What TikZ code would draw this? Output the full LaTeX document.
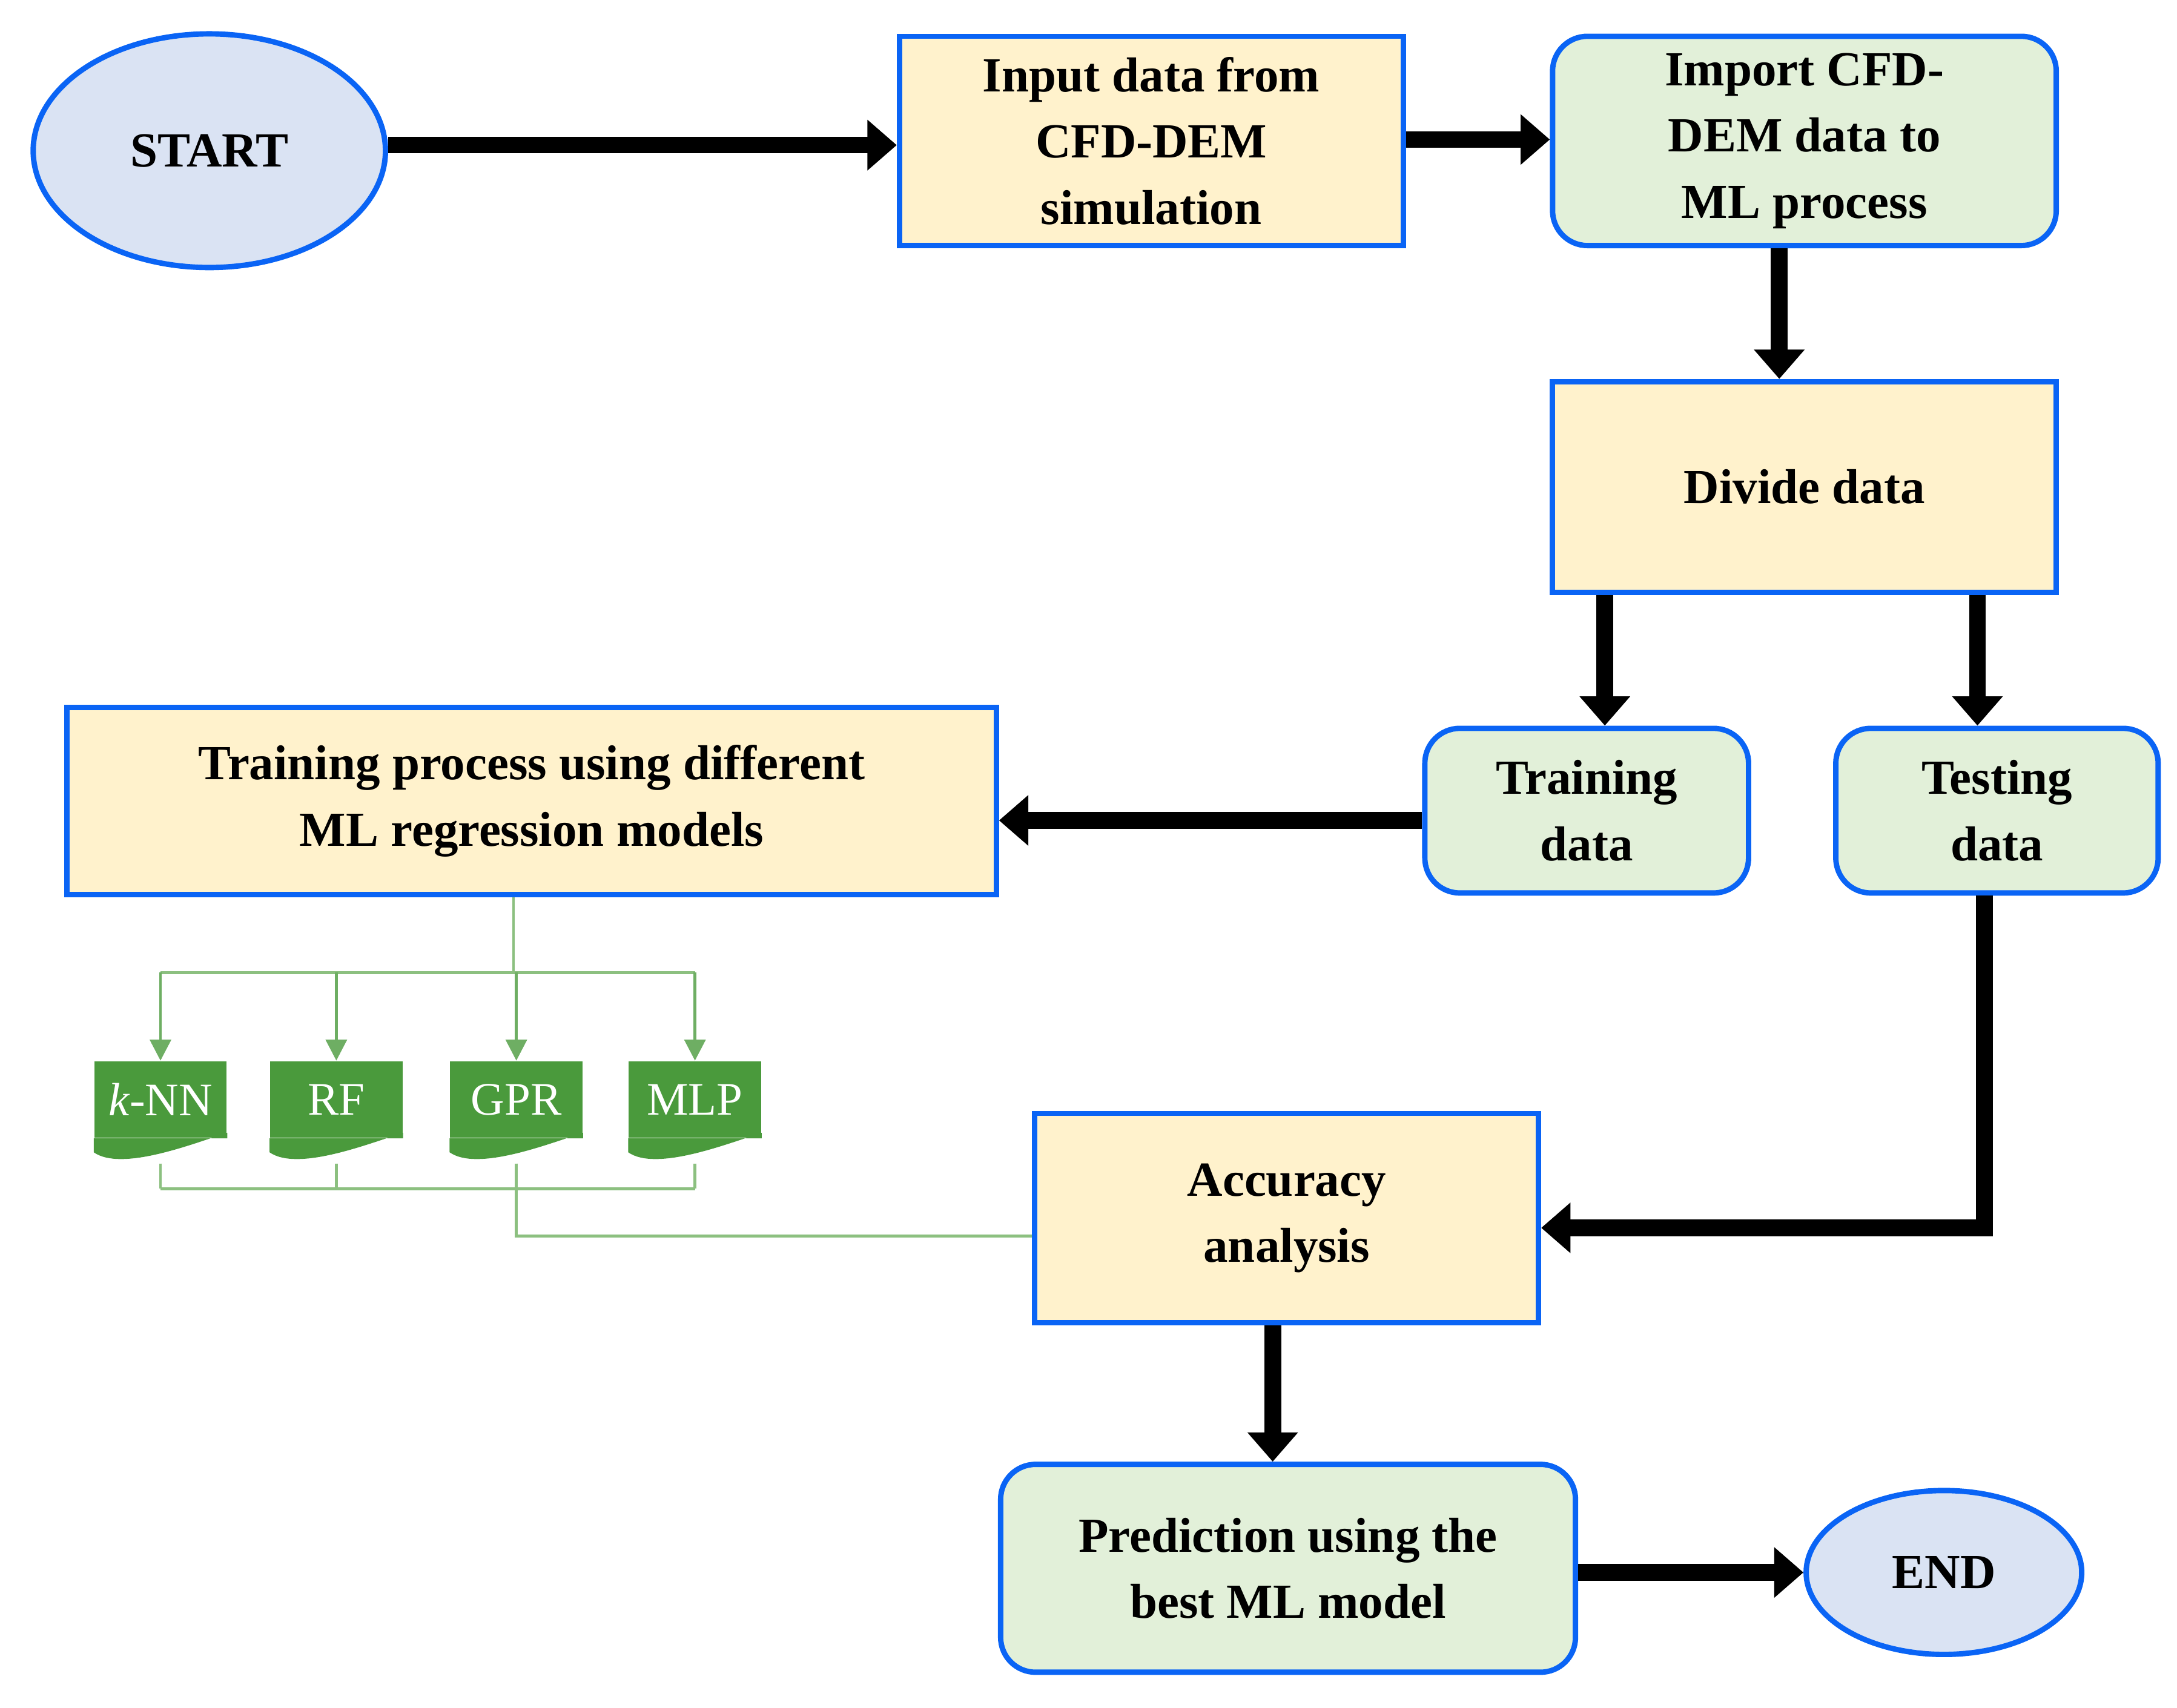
\documentclass[tikz,border=0pt]{standalone}
\usepackage{fontspec}
\setmainfont{Liberation Serif}
\usetikzlibrary{arrows.meta,shapes.geometric,calc}
\definecolor{edgeblue}{HTML}{0A64F5}
\definecolor{boxyellow}{HTML}{FFF2CC}
\definecolor{boxgreen}{HTML}{E2F0D9}
\definecolor{ovalblue}{HTML}{DAE3F3}
\definecolor{docgreen}{HTML}{4A9A3C}
\definecolor{linegreen}{HTML}{8CC080}
\tikzset{
  plain/.style={draw=edgeblue, line width=2.2pt, align=center, font=\fontsize{20}{27}\selectfont\bfseries, inner sep=2pt},
  sqbox/.style={plain, rectangle, fill=boxyellow},
  rdbox/.style={plain, rectangle, rounded corners=0.5cm, fill=boxgreen},
  oval/.style={plain, ellipse, fill=ovalblue},
  flow/.style={line width=0.24cm, -{Triangle[length=0.42cm,width=0.7cm]}},
  doc/.style={fill=docgreen, text=white, minimum width=1.9cm, minimum height=1.1cm, inner sep=0pt, font=\fontsize{19}{20}\selectfont},
  thin/.style={draw=linegreen, line width=1.2pt},
  pick/.style={thin, draw=docgreen!80, -{Triangle[length=0.3cm,width=0.3cm]}}
}
\begin{document}
\begin{tikzpicture}[x=0.02cm, y=-0.02cm]
    \useasboundingbox (0,0) rectangle (1560,1224);
    \node[oval, minimum width=5.05cm, minimum height=3.35cm] (start) at (150,108) {START};
    \node[sqbox, minimum width=7.22cm, minimum height=3.0cm] (input) at (825,101) {Input data from\\CFD-DEM\\simulation};
    \node[rdbox, minimum width=7.22cm, minimum height=3.0cm] (import) at (1293,101) {Import CFD-\\DEM data to\\ML process};
    \node[sqbox, minimum width=7.22cm, minimum height=3.02cm] (divide) at (1293,349) {Divide data};
    \node[rdbox, minimum width=4.64cm, minimum height=2.36cm] (train) at (1137,581) {Training\\data};
    \node[rdbox, minimum width=4.62cm, minimum height=2.36cm] (test) at (1431,581) {Testing\\data};
    \node[sqbox, minimum width=13.32cm, minimum height=2.68cm] (models) at (381,574) {Training process using different\\ML regression models};
    \node[sqbox, minimum width=7.22cm, minimum height=3.0cm] (accuracy) at (922,873) {Accuracy\\analysis};
    \node[rdbox, minimum width=8.24cm, minimum height=2.98cm] (predict) at (923,1124) {Prediction using the\\best ML model};
    \node[oval, minimum width=3.95cm, minimum height=2.35cm] (end) at (1393,1127) {END};
    % main flow
    \draw[flow] (start.east |- 0,104) -- (input.west |- 0,104);
    \draw[flow] (input.east |- 0,100) -- (import.west |- 0,100);
    \draw[flow] (import.south -| 1275,0) -- (divide.north -| 1275,0);
    \draw[flow] (divide.south -| 1150,0) -- (train.north -| 1150,0);
    \draw[flow] (divide.south -| 1417,0) -- (test.north -| 1417,0);
    \draw[flow] (train.west |- 0,588) -- (models.east |- 0,588);
    \draw[flow] (test.south -| 1422,0) -- (1422,880) -- (accuracy.east |- 0,880);
    \draw[flow] (accuracy.south -| 912,0) -- (predict.north -| 912,0);
    \draw[flow] (predict.east |- 0,1127) -- (end.west);
    % regression models
    \foreach \nm/\xx/\txt in {knn/115/{\textit{k}-NN}, rf/241/RF, gpr/370/GPR, mlp/498/MLP} {
      \node[doc] (\nm) at (\xx,788) {\txt};
      \fill[docgreen] (\nm.south west) -- ++(0,10) .. controls ++(20,14) and ++(-25,8) .. ($(\nm.south east)+(0,-4)$) -- (\nm.south east) -- cycle;
    }
    \coordinate (split) at (368,697);
    \coordinate (merge) at (368,852);
    \draw[thin] (models.south -| split) -- (split);
    \draw[thin] (knn |- split) -- (mlp |- split);
    \foreach \nm in {knn, rf, gpr, mlp} {
      \draw[pick] (\nm |- split) -- (\nm.north);
      \draw[thin] ($(\nm.south)+(0,18)$) -- (\nm |- merge);
    }
    \draw[thin] (knn |- merge) -- (mlp |- merge);
    \draw[thin] ($(gpr.south)+(0,18)$) -- (gpr |- 0,886) -- (accuracy.west |- 0,886);
\end{tikzpicture}
\end{document}
